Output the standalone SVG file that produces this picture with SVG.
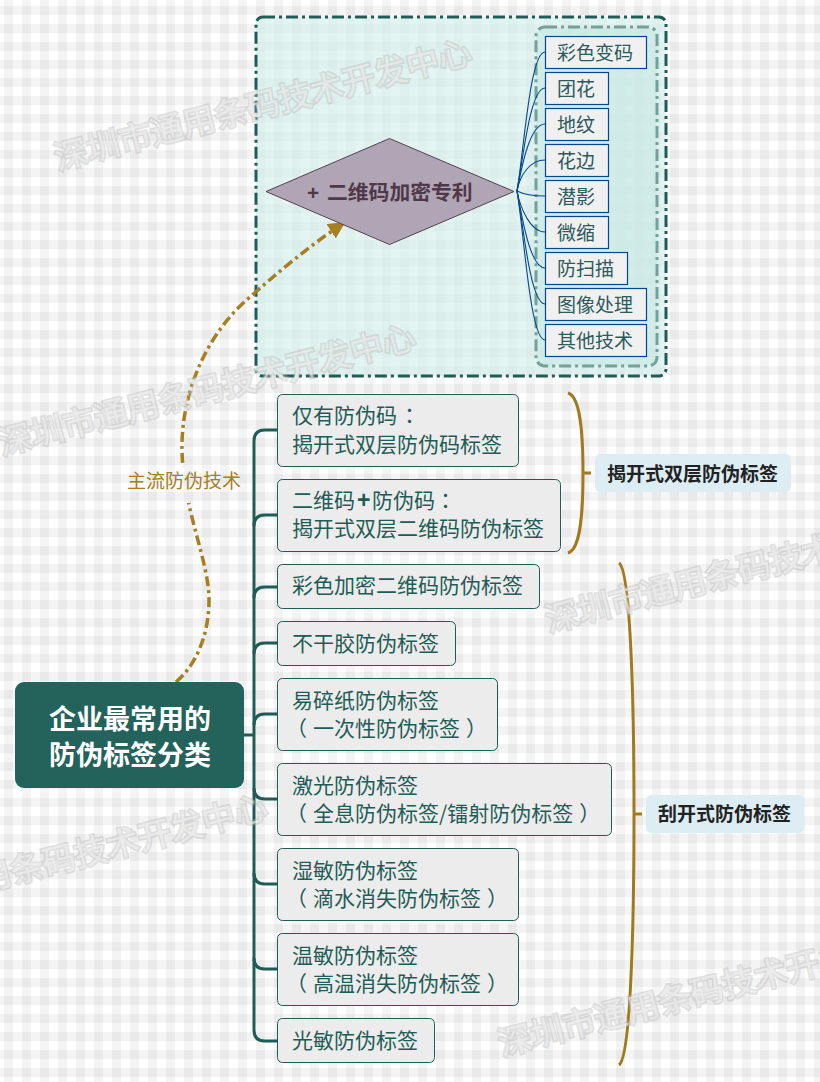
<svg xmlns="http://www.w3.org/2000/svg" width="820" height="1082" viewBox="0 0 820 1082">
<style>
text{font-family:"Liberation Sans","Noto Sans CJK SC",sans-serif}
.p{font-family:"Noto Sans CJK TC",sans-serif}
.n{fill:#ececec;stroke:#1f5c56;stroke-width:1}
.t{font-size:21px;fill:#1f5c56}
.s{fill:#f0f0f0;stroke:#06478c;stroke-width:1.2}
.st{font-size:19px;fill:#2d5a5c}
.b{fill:none;stroke:#1f5c56;stroke-width:3}
.l{fill:none;stroke:#06478c;stroke-width:1.1}
.br{fill:none;stroke:#a07a1c;stroke-width:3}
.lab{fill:#dcedf3}
.lt{font-size:19px;font-weight:bold;fill:#222}
.wm{font-size:33px;fill:#f4f4f4;fill-opacity:.6;stroke:#b4b4b4;stroke-opacity:.38;stroke-width:3.400;paint-order:stroke}
</style>
<defs>
<pattern id="g" width="18" height="18" patternUnits="userSpaceOnUse">
<rect width="18" height="18" fill="#fff"/>
<rect x="4" width="9" height="18" fill="#000" fill-opacity=".043"/>
<rect y="6" width="18" height="9" fill="#000" fill-opacity=".043"/>
</pattern>
<marker id="ah" viewBox="0 0 10 10" refX="9" refY="5" markerWidth="17" markerHeight="17" markerUnits="userSpaceOnUse" orient="auto"><path d="M0 0L10 5L0 10Z" fill="#a67f22"/></marker>
</defs>
<rect width="820" height="1082" fill="url(#g)"/>
<g id="frame">
<rect x="256" y="17" width="410" height="359" rx="7" fill="#d0efea" fill-opacity=".62" stroke="#1f5c56" stroke-width="3" stroke-dasharray="12 4 3 4"/>
<rect x="536" y="27" width="121" height="339" rx="9" fill="#c6e8e2" fill-opacity=".6" stroke="#74a09a" stroke-width="3" stroke-dasharray="12 4 3 4"/>
</g>
<g id="connectors">
<path class="b" d="M244 735H254"/>
<path class="b" d="M254 1030V441Q254 430 265 430H277"/>
<path class="b" d="M254 526Q254 515 265 515H277"/>
<path class="b" d="M254 598Q254 587 265 587H277"/>
<path class="b" d="M254 654Q254 643 265 643H277"/>
<path class="b" d="M254 725Q254 714 265 714H277"/>
<path class="b" d="M254 788Q254 799 265 799H277"/>
<path class="b" d="M254 873Q254 884 265 884H277"/>
<path class="b" d="M254 958Q254 969 265 969H277"/>
<path class="b" d="M254 1030Q254 1041 265 1041H277"/>
<path class="l" d="M517 191C524 150 530 52 545 52"/>
<path class="l" d="M517 191C523 160 530 88 545 88"/>
<path class="l" d="M517 191C522 165 530 124 545 124"/>
<path class="l" d="M517 191C520 175 530 160 545 160"/>
<path class="l" d="M517 191C525 195 535 196 545 196"/>
<path class="l" d="M517 191C520 207 530 232 545 232"/>
<path class="l" d="M517 191C522 217 530 268 545 268"/>
<path class="l" d="M517 191C523 222 530 304 545 304"/>
<path class="l" d="M517 191C524 232 530 340 545 340"/>
<path d="M176 682C196 665 209 635 209 600C209 560 183 510 182 450C181 395 205 335 250 297C275 275 310 245 344 223" fill="none" stroke="#a67f22" stroke-width="3.500" stroke-dasharray="10 4 3 4" marker-end="url(#ah)"/>
<path class="br" d="M568 393C578 396 583 420 583 473C583 528 578 550 568 553M583 473H591"/>
<path class="br" d="M619 563C630 570 634 690 634 814C634 940 630 1058 619 1065M634 814H642"/>
</g>
<g id="root"><rect x="15" y="682" width="229" height="106" rx="9" fill="#24635c"/>
<text x="130" y="729" font-size="27" font-weight="bold" fill="#fff" text-anchor="middle">企业最常用的</text>
<text x="130" y="765" font-size="27" font-weight="bold" fill="#fff" text-anchor="middle">防伪标签分类</text></g>
<g id="diamond"><path d="M266 191.500L389.500 138.500L514 191.500L389.500 244.500Z" fill="#b0a5b5" stroke="#5a3f50" stroke-width="1"/>
<text x="307" y="200" font-size="20.800" font-weight="bold" fill="#4f3848">+<tspan x="327">二维码加密专利</tspan></text></g>
<g id="s1"><rect class="s" x="545.500" y="36.500" width="101" height="32"/><text class="st" x="557" y="60">彩色变码</text></g>
<g id="s2"><rect class="s" x="545.500" y="72.500" width="63" height="32"/><text class="st" x="557" y="96">团花</text></g>
<g id="s3"><rect class="s" x="545.500" y="108.500" width="63" height="32"/><text class="st" x="557" y="132">地纹</text></g>
<g id="s4"><rect class="s" x="545.500" y="144.500" width="63" height="32"/><text class="st" x="557" y="168">花边</text></g>
<g id="s5"><rect class="s" x="545.500" y="180.500" width="63" height="32"/><text class="st" x="557" y="204">潜影</text></g>
<g id="s6"><rect class="s" x="545.500" y="216.500" width="63" height="32"/><text class="st" x="557" y="240">微缩</text></g>
<g id="s7"><rect class="s" x="545.500" y="252.500" width="82" height="32"/><text class="st" x="557" y="276">防扫描</text></g>
<g id="s8"><rect class="s" x="545.500" y="288.500" width="101" height="32"/><text class="st" x="557" y="312">图像处理</text></g>
<g id="s9"><rect class="s" x="545.500" y="324.500" width="101" height="32"/><text class="st" x="557" y="348">其他技术</text></g>
<g id="n1"><rect class="n" x="277.500" y="394.500" width="241" height="72" rx="5"/><text class="t" x="292" y="423">仅有防伪码<tspan class="p" dx="2">：</tspan></text><text class="t" x="292" y="452">揭开式双层防伪码标签</text></g>
<g id="n2"><rect class="n" x="277.500" y="479.500" width="283" height="72" rx="5"/><text class="t" x="292" y="508">二维码<tspan x="357" font-weight="bold" font-size="23">+</tspan><tspan x="372">防伪码</tspan><tspan class="p">：</tspan></text><text class="t" x="292" y="536">揭开式双层二维码防伪标签</text></g>
<g id="n3"><rect class="n" x="277.500" y="564.500" width="262" height="44" rx="5"/><text class="t" x="292" y="593">彩色加密二维码防伪标签</text></g>
<g id="n4"><rect class="n" x="277.500" y="621.500" width="178" height="44" rx="5"/><text class="t" x="292" y="651">不干胶防伪标签</text></g>
<g id="n5"><rect class="n" x="277.500" y="678.500" width="220" height="72" rx="5"/><text class="t" x="292" y="708">易碎纸防伪标签</text><text class="t" x="292" y="736"><tspan dx="-6">（</tspan><tspan dx="6">一次性防伪标签</tspan><tspan dx="6">）</tspan></text></g>
<g id="n6"><rect class="n" x="277.500" y="763.500" width="334" height="72" rx="5"/><text class="t" x="292" y="793">激光防伪标签</text><text class="t" x="292" y="821"><tspan dx="-6">（</tspan><tspan dx="6">全息防伪标签</tspan><tspan class="p">/</tspan>镭射防伪标签<tspan dx="6">）</tspan></text></g>
<g id="n7"><rect class="n" x="277.500" y="848.500" width="241" height="72" rx="5"/><text class="t" x="292" y="878">湿敏防伪标签</text><text class="t" x="292" y="906"><tspan dx="-6">（</tspan><tspan dx="6">滴水消失防伪标签</tspan><tspan dx="6">）</tspan></text></g>
<g id="n8"><rect class="n" x="277.500" y="933.500" width="241" height="72" rx="5"/><text class="t" x="292" y="963">温敏防伪标签</text><text class="t" x="292" y="991"><tspan dx="-6">（</tspan><tspan dx="6">高温消失防伪标签</tspan><tspan dx="6">）</tspan></text></g>
<g id="n9"><rect class="n" x="277.500" y="1018.500" width="157" height="44" rx="5"/><text class="t" x="292" y="1048">光敏防伪标签</text></g>
<g id="l1"><rect class="lab" x="595" y="454" width="196" height="38" rx="5"/><text class="lt" x="607" y="481">揭开式双层防伪标签</text></g>
<g id="l2"><rect class="lab" x="646" y="795" width="158" height="38" rx="5"/><text class="lt" x="658" y="821">刮开式防伪标签</text></g>
<g id="edge-label"><rect x="176" y="467" width="14" height="36" fill="url(#g)"/><text x="127" y="488" font-size="19" fill="#a67f22">主流防伪技术</text></g>
<g id="watermarks">
<text class="wm" transform="translate(58 170) rotate(-14.500)">深圳市通用条码技术开发中心</text>
<text class="wm" transform="translate(2 455) rotate(-14.500)">深圳市通用条码技术开发中心</text>
<text class="wm" transform="translate(549 632) rotate(-14.500)">深圳市通用条码技术开发中心</text>
<text class="wm" transform="translate(-146 925) rotate(-14.500)">深圳市通用条码技术开发中心</text>
<text class="wm" transform="translate(502 1056) rotate(-14.500)">深圳市通用条码技术开发中心</text>
</g>
</svg>
